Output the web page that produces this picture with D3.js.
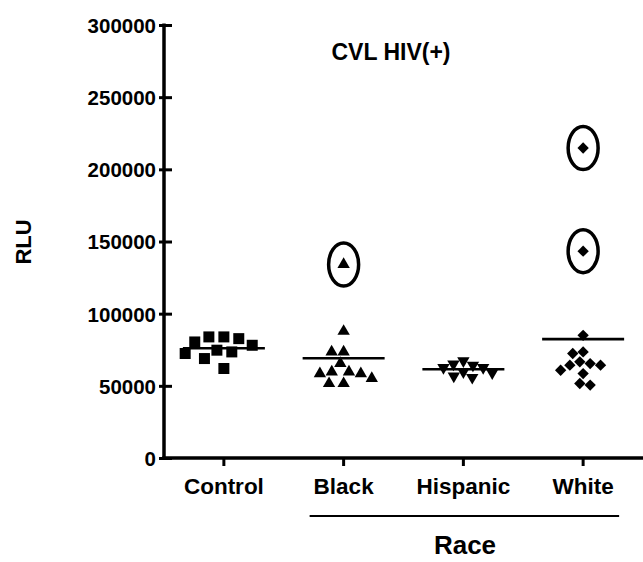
<!DOCTYPE html>
<html>
<head>
<meta charset="utf-8">
<script src="https://cdn.jsdelivr.net/npm/d3@7"></script>
<style>
  html, body { margin: 0; padding: 0; background: #fff; }
  svg { display: block; }
  text { font-family: "Liberation Sans", Arial, Helvetica, sans-serif; font-weight: bold; fill: #000; }
</style>
</head>
<body>
<svg id="chart" width="643" height="562"></svg>
<script>
// ---- data ----
const categories = ["Control", "Black", "Hispanic", "White"];
const controlValues  = [83900, 82700, 80400, 83900, 78100, 74700, 73500, 72400, 68900, 62000];
const blackValues    = [134100, 87800, 73500, 73500, 65500, 59700, 58500, 58500, 59700, 55100, 51600, 51600];
const hispanicValues = [65000, 67300, 64300, 62700, 62700, 59700, 59000, 56700, 55800];
const whiteValues    = [214800, 143300, 85000, 73500, 72400, 66600, 65400, 64300, 64300, 60800, 58500, 50500, 51600];
const yTicks = [0, 50000, 100000, 150000, 200000, 250000, 300000];
const circledPoints = [
  { group: "Black", value: 134100 },
  { group: "White", value: 214800 },
  { group: "White", value: 143300 }
];
const raceGroups = ["Black", "Hispanic", "White"];
const titleText = "CVL HIV(+)";
const yLabel = "RLU";
const groupLabel = "Race";

const seriesByGroup = {
  Control: controlValues, Black: blackValues, Hispanic: hispanicValues, White: whiteValues
};

// ---- layout ----
const svg = d3.select("#chart");
const mLeft = 164, mRight = 643, mTop = 25, mBottom = 458;

const x = d3.scaleBand().domain(categories).range([mLeft, mRight]).padding(0);
const y = d3.scaleLinear().domain([0, 300000]).range([mBottom, mTop]);

// y axis
const yAxis = svg.append("g").attr("transform", `translate(${mLeft},0)`)
  .call(d3.axisLeft(y).tickValues(yTicks).tickFormat(d3.format("d")).tickSize(0).tickPadding(8));
yAxis.select(".domain").remove();
yAxis.selectAll(".tick text").style("font-size", "20.5px").attr("x", -8).attr("dy", "0.36em");
yAxis.selectAll(".tick").append("line")
  .attr("x1", -5).attr("x2", 8).attr("stroke", "#000").attr("stroke-width", 3);
svg.append("line").attr("x1", mLeft).attr("x2", mLeft).attr("y1", mTop - 1.5).attr("y2", mBottom + 1.5)
  .attr("stroke", "#000").attr("stroke-width", 3.5);

// x axis
const xAxis = svg.append("g").attr("transform", `translate(0,${mBottom})`)
  .call(d3.axisBottom(x).tickSize(8).tickPadding(12));
xAxis.select(".domain").remove();
xAxis.selectAll(".tick line").attr("stroke", "#000").attr("stroke-width", 3);
xAxis.selectAll(".tick text").style("font-size", "22.5px").attr("y", 20).attr("dy", "0.71em");
svg.append("line").attr("x1", mLeft - 1.75).attr("x2", mRight).attr("y1", mBottom).attr("y2", mBottom)
  .attr("stroke", "#000").attr("stroke-width", 3.5);

// group bracket
const gx0 = x(raceGroups[0]) + x.bandwidth() / 2 - 34;
const gx1 = x(raceGroups[raceGroups.length - 1]) + x.bandwidth() / 2 + 36;
svg.append("line").attr("x1", gx0).attr("x2", gx1).attr("y1", 516).attr("y2", 516)
  .attr("stroke", "#000").attr("stroke-width", 2);
svg.append("text").attr("x", 465).attr("y", 554).attr("text-anchor", "middle")
  .style("font-size", "26px").text(groupLabel);

// title and y label
svg.append("text").attr("x", 391).attr("y", 60).attr("text-anchor", "middle")
  .style("font-size", "23px").text(titleText);
svg.append("text").attr("transform", "translate(31,242) rotate(-90)").attr("text-anchor", "middle")
  .style("font-size", "22px").text(yLabel);

// ---- beeswarm placement ----
function swarm(values, diam) {
  const items = values.map(v => ({ v, py: y(v) })).sort((a, b) => a.py - b.py);
  const placed = [];
  items.forEach(it => {
    const cands = [0];
    placed.forEach(p => {
      const dy = Math.abs(p.py - it.py);
      if (dy < diam) {
        const dx = Math.sqrt(diam * diam - dy * dy);
        cands.push(p.dx + dx, p.dx - dx);
      }
    });
    cands.sort((a, b) => Math.abs(a) - Math.abs(b) || a - b);
    for (const c of cands) {
      const ok = placed.every(p => Math.hypot(p.dx - c, p.py - it.py) >= diam - 0.01);
      if (ok) { it.dx = c; break; }
    }
    placed.push(it);
  });
  return placed;
}

const symbols = {
  Control:  { type: d3.symbolSquare,   size: 121, rot: 0,   diam: 15 },
  Black:    { type: d3.symbolTriangle, size: 66,  rot: 0,   diam: 12 },
  Hispanic: { type: d3.symbolTriangle, size: 66,  rot: 180, diam: 10.5 },
  White:    { type: d3.symbolSquare,   size: 64,  rot: 45,  diam: 10.5 }
};

categories.forEach(cat => {
  const cx = x(cat) + x.bandwidth() / 2;
  const s = symbols[cat];
  const pts = swarm(seriesByGroup[cat], s.diam);
  const sym = d3.symbol().type(s.type).size(s.size);
  svg.append("g").selectAll("path").data(pts).join("path")
    .attr("d", sym)
    .attr("transform", d => `translate(${cx + d.dx},${d.py}) rotate(${s.rot})`)
    .attr("fill", "#000");
  const m = d3.mean(seriesByGroup[cat]);
  svg.append("line").attr("x1", cx - 41).attr("x2", cx + 41).attr("y1", y(m)).attr("y2", y(m))
    .attr("stroke", "#000").attr("stroke-width", 2.6);
});

// circled outliers
svg.append("g").selectAll("ellipse").data(circledPoints).join("ellipse")
  .attr("cx", d => x(d.group) + x.bandwidth() / 2)
  .attr("cy", d => y(d.value))
  .attr("rx", 15).attr("ry", 21.5)
  .attr("fill", "none").attr("stroke", "#000").attr("stroke-width", 3.5);
</script>
</body>
</html>
